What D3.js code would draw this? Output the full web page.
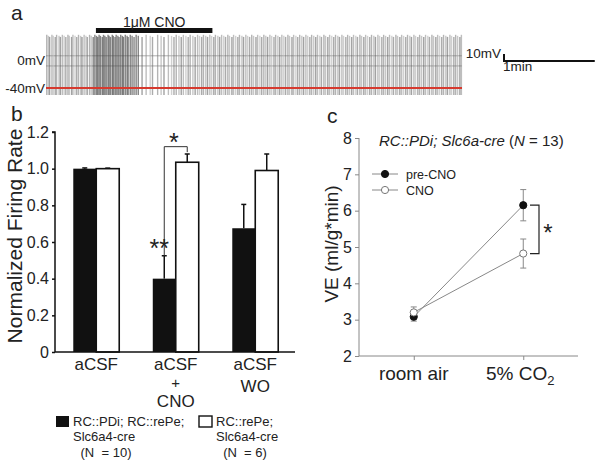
<!DOCTYPE html>
<html><head><meta charset="utf-8">
<script src="https://cdn.jsdelivr.net/npm/d3@7"></script>
<style>
html,body{margin:0;padding:0;background:#fff;}
svg{display:block;}
text{font-family:"Liberation Sans",Arial,Helvetica,sans-serif;fill:#222;}
</style></head><body>
<svg id="c" width="600" height="463"></svg>
<script>
// ---------- Panel a: trace ----------
const spikeTimes = [0.5,1.6,2.4,3.9,4.8,6.1,7.0,8.6,9.5,10.8,12.0,13.1,14.5,15.4,16.9,17.8,19.2,20.3,21.5,22.9,23.8,25.2,26.4,27.3,28.8,29.9,31.2,32.3,
33.4,34.2,35.1,36.0,37.2,38.0,38.9,39.8,41.0,41.7,42.6,43.8,44.5,45.6,46.4,47.5,48.3,49.4,50.5,51.2,52.4,53.6,54.3,55.7,56.9,58.2,59.6,61.0,
63.5,66.2,68.9,70.4,73.8,76.1,78.0,80.9,83.0,84.6,86.1,87.9,89.4,90.8,92.5,94.0,95.3,97.1,98.6,100.2,101.5,
102.9,104.1,105.6,106.8,108.3,109.5,110.9,112.0,113.6,114.8,116.1,117.5,118.7,120.2,121.3,122.9,124.0,125.4,126.8,127.9,129.5,130.6,132.1,133.3,134.6,136.0,137.2,138.8,139.9,141.4,142.6,144.0,145.3,146.5,148.0,149.2,150.7,151.8,153.3,154.5,155.9,157.2,158.4,159.9,161.0,162.6,163.7,165.2,166.4,167.7,169.1,170.3,171.8,173.0,174.4,175.6,177.0,178.3,179.5,181.0,182.1,183.7,184.8,186.3,187.5,188.9,190.2,191.4,192.9,194.0,195.6,196.7,198.2,199.4,200.7,202.1,203.3,204.8,205.9,207.5,208.6,210.1,211.3,212.6,214.0,215.2,216.7,217.8,219.4,220.5,222.0,223.2,224.5,225.9,227.1,228.6,229.7,231.3,232.4,233.9,235.1,236.4,237.8,239.0,240.5,241.6,243.2,244.3,245.8,247.0,248.3,249.7,250.9,252.4,253.5,255.1,256.2,257.7,258.9,260.2,261.6,262.8,264.3,265.4,267.0,268.1,269.6,270.8,272.1,273.6,274.6];
const spikePeak = 36;      // mV
const spikeTrough = -50;   // mV
const restingMV = -40;
const cnoWindow = [33, 110]; // s
const traceGrid = [6, -8.5];
const mvLabels = [{v:0, t:"0mV"}, {v:-40, t:"-40mV"}];

// ---------- Panel b: bars ----------
const groups = ["aCSF", "aCSF+CNO", "aCSF WO"];
const groupLabels = [["aCSF"], ["aCSF","+","CNO"], ["aCSF","WO"]];
const seriesB = ["PDi", "rePe"];
const pdiVals = [1.0, 0.40, 0.675];
const pdiErr  = [0.004, 0.125, 0.13];
const repeVals = [1.0, 1.035, 0.99];
const repeErr  = [0.003, 0.045, 0.09];
const yTicksB = [0, 0.2, 0.4, 0.6, 0.8, 1.0, 1.2];

// ---------- Panel c: lines ----------
const conditions = ["room air", "5% CO2"];
const preCNO = [3.08, 6.15];
const preCNOErr = [0.12, 0.43];
const cno = [3.2, 4.82];
const cnoErr = [0.15, 0.40];
const yTicksC = [2, 3, 4, 5, 6, 7, 8];

const svg = d3.select("#c");

// ===== Panel a =====
const tx = d3.scaleLinear().domain([0, 275]).range([46, 462]);
const ty = d3.scaleLinear().domain([-40, 0]).range([88, 60]);
svg.append("text").attr("x", 11).attr("y", 20).attr("font-size", 21).text("a");
const ga = svg.append("g");
ga.selectAll("line.grid").data(traceGrid).join("line")
  .attr("x1", tx(0)).attr("x2", tx(275)).attr("y1", d=>ty(d)).attr("y2", d=>ty(d))
  .attr("stroke", "#777").attr("stroke-width", 0.6);
const shade = ["#777", "#999", "#555", "#888", "#aaa", "#666"];
ga.selectAll("line.spk").data(spikeTimes).join("line")
  .attr("x1", d=>tx(d)).attr("x2", d=>tx(d))
  .attr("y1", ty(spikeTrough)).attr("y2", (d,i)=> ty(spikePeak - (i%3)*1.5))
  .attr("stroke", (d,i)=> (d>=30 && d<=62) ? "#444" : shade[i % shade.length])
  .attr("stroke-opacity", (d)=> (d>=30 && d<=62) ? 0.65 : 0.55)
  .attr("stroke-width", 1.4);
ga.append("line").attr("x1", tx(0)).attr("x2", tx(275)).attr("y1", ty(restingMV)).attr("y2", ty(restingMV))
  .attr("stroke", "#d63a2f").attr("stroke-width", 2.2);
ga.selectAll("text.mv").data(mvLabels).join("text")
  .attr("x", 45).attr("y", d=>ty(d.v)+5).attr("text-anchor", "end").attr("font-size", 13.5).text(d=>d.t);
ga.append("line").attr("x1", tx(cnoWindow[0])).attr("x2", tx(cnoWindow[1])).attr("y1", 30.5).attr("y2", 30.5)
  .attr("stroke", "#111").attr("stroke-width", 5);
ga.append("text").attr("x", (tx(cnoWindow[0])+tx(cnoWindow[1]))/2).attr("y", 27).attr("text-anchor", "middle")
  .attr("font-size", 14).text("1\u03bcM CNO");
// scale bar: 10 mV, 1 min
const sbX = 504, sbY = 61;
ga.append("path").attr("d", `M${sbX},${sbY - (ty(0)-ty(10))}V${sbY}H${sbX + (tx(60)-tx(0))}`)
  .attr("fill", "none").attr("stroke", "#111").attr("stroke-width", 2);
ga.append("text").attr("x", 501).attr("y", 58).attr("text-anchor", "end").attr("font-size", 13.5).text("10mV");
ga.append("text").attr("x", 503).attr("y", 71).attr("font-size", 13.5).text("1min");

// ===== Panel b =====
const gb = svg.append("g");
svg.append("text").attr("x", 11).attr("y", 121).attr("font-size", 21).text("b");
const yb = d3.scaleLinear().domain([0, 1.2]).range([352, 132]);
const x0 = d3.scaleBand().domain(groups).range([56.5, 295]).padding(0);
const x1 = d3.scaleBand().domain(seriesB).range([0, x0.bandwidth()]).paddingInner(0).paddingOuter(0.73);
const barData = [];
groups.forEach((g, i) => {
  barData.push({g, s: "PDi", v: pdiVals[i], e: pdiErr[i]});
  barData.push({g, s: "rePe", v: repeVals[i], e: repeErr[i]});
});
gb.selectAll("rect.bar").data(barData).join("rect")
  .attr("x", d=>x0(d.g)+x1(d.s)).attr("width", x1.bandwidth())
  .attr("y", d=>yb(d.v)).attr("height", d=>yb(0)-yb(d.v))
  .attr("fill", d=>d.s==="PDi" ? "#111" : "#fff")
  .attr("stroke", "#111").attr("stroke-width", d=>d.s==="PDi" ? 0 : 1.6);
const cx = d => x0(d.g)+x1(d.s)+x1.bandwidth()/2;
gb.selectAll("line.err").data(barData).join("line")
  .attr("x1", cx).attr("x2", cx).attr("y1", d=>yb(d.v)).attr("y2", d=>yb(d.v+d.e))
  .attr("stroke", "#111").attr("stroke-width", 1.5);
gb.selectAll("line.cap").data(barData).join("line")
  .attr("x1", d=>cx(d)-2.5).attr("x2", d=>cx(d)+2.5).attr("y1", d=>yb(d.v+d.e)).attr("y2", d=>yb(d.v+d.e))
  .attr("stroke", "#111").attr("stroke-width", 1.5);
// axes
const yAxisB = d3.axisLeft(yb).tickValues(yTicksB).tickSize(3).tickPadding(3)
  .tickFormat(d => d===0 ? "0" : d3.format(".1f")(d));
const gyb = gb.append("g").attr("transform", "translate(55,0)").call(yAxisB);
gyb.select(".domain").attr("stroke", "#111").attr("stroke-width", 1.5).attr("d", `M-3,${yb(1.2)}H0V${yb(0)}`);
gyb.selectAll(".tick line").attr("stroke", "#111").attr("stroke-width", 1.5);
gyb.selectAll(".tick text").attr("font-size", 16).attr("font-family", "Liberation Sans, Arial, sans-serif").attr("fill", "#222");
gb.append("line").attr("x1", 55).attr("x2", 295).attr("y1", yb(0)).attr("y2", yb(0)).attr("stroke", "#111").attr("stroke-width", 1.5);
// x labels (one text per line)
const lineY = {1: [370], 2: [370, 392], 3: [370, 387.5, 406.5]};
const lineSize = {1: [17], 2: [17, 17], 3: [17, 15, 17]};
groups.forEach((g, i) => {
  const lines = groupLabels[i];
  lines.forEach((l, k) => gb.append("text").attr("x", x0(g)+x0.bandwidth()/2).attr("y", lineY[lines.length][k])
    .attr("text-anchor", "middle").attr("font-size", lineSize[lines.length][k]).text(l));
});
gb.append("text").attr("transform", "translate(22,236) rotate(-90)")
  .attr("text-anchor", "middle").attr("font-size", 21).text("Normalized Firing Rate");
// significance
const bCNO = barData[2], wCNO = barData[3];
gb.append("path").attr("d", `M${cx(bCNO)},${yb(bCNO.v+bCNO.e)}V${yb(1.12)}H${cx(wCNO)}V${yb(1.09)}`)
  .attr("fill", "none").attr("stroke", "#333").attr("stroke-width", 1);
gb.append("text").attr("x", (cx(bCNO)+cx(wCNO))/2 - 2).attr("y", 151).attr("text-anchor", "middle").attr("font-size", 25).text("*");
gb.append("text").attr("x", cx(bCNO)-5).attr("y", 257).attr("text-anchor", "middle").attr("font-size", 25).text("**");
// legend
gb.append("rect").attr("x", 56).attr("y", 416).attr("width", 13).attr("height", 11).attr("fill", "#111");
gb.append("rect").attr("x", 199).attr("y", 416).attr("width", 13).attr("height", 11).attr("fill", "#fff").attr("stroke", "#111").attr("stroke-width", 1.4);
const legB = [
  {x:73, y:426, t:"RC::PDi; RC::rePe;", a:"start"},
  {x:73, y:441, t:"Slc6a4-cre", a:"start"},
  {x:106, y:457, t:"(N  = 10)", a:"middle"},
  {x:216, y:426, t:"RC::rePe;", a:"start"},
  {x:216, y:441, t:"Slc6a4-cre", a:"start"},
  {x:245, y:457, t:"(N  = 6)", a:"middle"}
];
gb.selectAll("text.leg").data(legB).join("text").attr("x", d=>d.x).attr("y", d=>d.y)
  .attr("text-anchor", d=>d.a).attr("font-size", 13).attr("fill", "#333").style("white-space", "pre").text(d=>d.t);

// ===== Panel c =====
const gc = svg.append("g");
svg.append("text").attr("x", 327).attr("y", 123).attr("font-size", 21).text("c");
const yc = d3.scaleLinear().domain([2, 8]).range([356, 138]);
const xc = d3.scalePoint().domain(conditions).range([359, 578]).padding(0.5);
const axCol = "#888";
const gyc = gc.append("g").attr("transform", "translate(359,0)")
  .call(d3.axisLeft(yc).tickValues(yTicksC).tickSize(4).tickPadding(3).tickFormat(d3.format("d")));
gyc.select(".domain").attr("stroke", axCol).attr("d", `M0,${yc(8)}V${yc(2)}`);
gyc.selectAll(".tick line").attr("stroke", axCol);
gyc.selectAll(".tick text").attr("font-size", 16).attr("font-family", "Liberation Sans, Arial, sans-serif").attr("fill", "#222");
const gxc = gc.append("g").attr("transform", `translate(0,${yc(2)})`)
  .call(d3.axisBottom(xc).tickSize(4).tickFormat(""));
gxc.select(".domain").attr("stroke", axCol).attr("d", "M359,0H578");
gxc.selectAll(".tick line").attr("stroke", axCol);
// x labels
gc.append("text").attr("x", xc("room air")).attr("y", 380).attr("text-anchor", "middle").attr("font-size", 19).text("room air");
const co2 = gc.append("text").attr("x", xc("5% CO2")-3).attr("y", 380).attr("text-anchor", "middle").attr("font-size", 19);
co2.append("tspan").text("5% CO");
co2.append("tspan").attr("font-size", 13).attr("dy", 5).text("2");
// y label
gc.append("text").attr("transform", "translate(338,244) rotate(-90)").attr("text-anchor", "middle").attr("font-size", 19).text("VE (ml/g*min)");
// title
const ttl = gc.append("text").attr("x", 379).attr("y", 146).attr("font-size", 15).attr("fill", "#333");
ttl.append("tspan").attr("font-style", "italic").text("RC::PDi; Slc6a-cre");
ttl.append("tspan").text(" (");
ttl.append("tspan").attr("font-style", "italic").text("N");
ttl.append("tspan").text(" = 13)");
// series
const seriesC = [
  {name:"pre-CNO", vals:preCNO, err:preCNOErr, fill:"#111", stroke:"#111"},
  {name:"CNO", vals:cno, err:cnoErr, fill:"#fff", stroke:"#777"}
];
const line = d3.line().x((d,i)=>xc(conditions[i])).y(d=>yc(d));
seriesC.forEach(s => {
  gc.append("path").attr("d", line(s.vals)).attr("fill", "none").attr("stroke", "#888").attr("stroke-width", 1);
});
seriesC.forEach(s => {
  s.vals.forEach((v, i) => {
    const x = xc(conditions[i]);
    gc.append("line").attr("x1", x).attr("x2", x).attr("y1", yc(v - s.err[i])).attr("y2", yc(v + s.err[i])).attr("stroke", "#888").attr("stroke-width", 1);
    [v - s.err[i], v + s.err[i]].forEach(e => gc.append("line").attr("x1", x-3).attr("x2", x+3).attr("y1", yc(e)).attr("y2", yc(e)).attr("stroke", "#888"));
  });
});
seriesC.forEach(s => {
  gc.selectAll(null).data(s.vals).join("circle")
    .attr("cx", (d,i)=>xc(conditions[i])).attr("cy", d=>yc(d)).attr("r", 3.6)
    .attr("fill", s.fill).attr("stroke", s.stroke).attr("stroke-width", 1);
});
// bracket
gc.append("path").attr("d", `M530,${yc(preCNO[1])}H539V${yc(cno[1])}H530`).attr("fill", "none").attr("stroke", "#222").attr("stroke-width", 1.2);
gc.append("text").attr("x", 548).attr("y", 241).attr("text-anchor", "middle").attr("font-size", 24).text("*");
// legend
seriesC.forEach((s, i) => {
  const y = 174 + i*16;
  gc.append("line").attr("x1", 372).attr("x2", 398).attr("y1", y).attr("y2", y).attr("stroke", "#888");
  gc.append("circle").attr("cx", 385).attr("cy", y).attr("r", 3.6).attr("fill", s.fill).attr("stroke", s.stroke);
  gc.append("text").attr("x", 406).attr("y", y+4.5).attr("font-size", 12.5).attr("fill", "#333").text(s.name);
});
</script>
</body></html>
